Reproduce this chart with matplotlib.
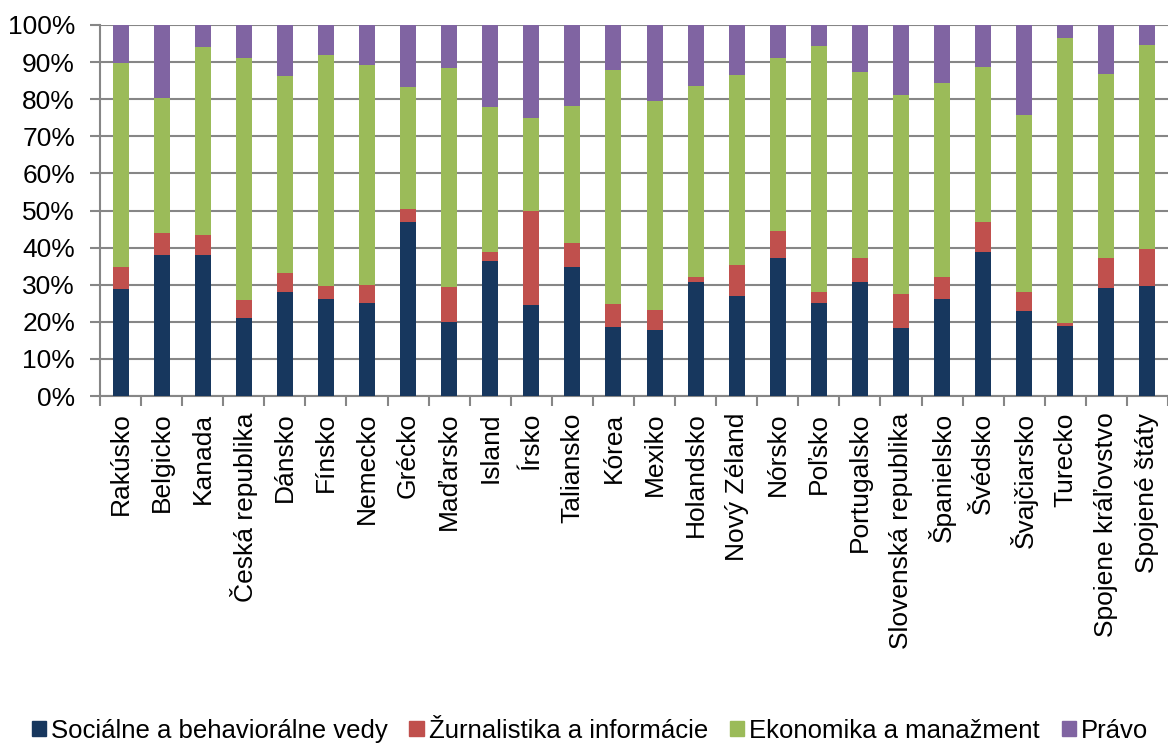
import numpy as np
import matplotlib.pyplot as plt
from matplotlib.patches import Patch

plt.rcParams['font.family'] = ['Liberation Sans', 'DejaVu Sans']

# Krajiny
krajiny = ['Rakúsko', 'Belgicko', 'Kanada', 'Česká republika', 'Dánsko', 'Fínsko',
           'Nemecko', 'Grécko', 'Maďarsko', 'Island', 'Írsko', 'Taliansko', 'Kórea',
           'Mexiko', 'Holandsko', 'Nový Zéland', 'Nórsko', 'Poľsko', 'Portugalsko',
           'Slovenská republika', 'Španielsko', 'Švédsko', 'Švajčiarsko', 'Turecko',
           'Spojene kráľovstvo', 'Spojené štáty']

# Podiely (%)
socialne = [28.8, 38.1, 38.1, 21.0, 28.1, 26.2, 25.1, 46.8, 20.0, 36.4, 24.6, 34.8, 18.6,
            17.8, 30.8, 27.0, 37.2, 25.2, 30.8, 18.3, 26.2, 38.8, 23.0, 19.0, 29.1, 29.7]
zurnalistika = [6.0, 5.9, 5.2, 5.0, 5.1, 3.5, 4.8, 3.6, 9.3, 2.3, 25.3, 6.4, 6.2,
                5.5, 1.3, 8.4, 7.3, 2.9, 6.4, 9.1, 5.8, 8.1, 4.9, 0.8, 8.0, 10.0]
ekonomika = [55.0, 36.2, 50.9, 65.1, 53.0, 62.2, 59.3, 32.9, 59.2, 39.3, 25.0, 37.1, 63.2,
             56.3, 51.5, 51.1, 46.5, 66.2, 50.0, 53.8, 52.4, 41.9, 47.8, 76.8, 49.6, 54.8]
pravo = [100 - a - b - c for a, b, c in zip(socialne, zurnalistika, ekonomika)]

serie = [
    ('Sociálne a behaviorálne vedy', socialne, '#17375E'),
    ('Žurnalistika a informácie', zurnalistika, '#C0504D'),
    ('Ekonomika a manažment', ekonomika, '#9BBB59'),
    ('Právo', pravo, '#8064A2'),
]

fig = plt.figure(figsize=(11.68, 7.48), dpi=100)
ax = fig.add_axes([100/1168, 1 - 396/748, 1 - 100/1168, 371/748])

x = np.arange(len(krajiny))
spodok = np.zeros(len(krajiny))
for nazov, hodnoty, farba in serie:
    ax.bar(x, hodnoty, 0.39, bottom=spodok, color=farba, label=nazov, zorder=3)
    spodok += np.array(hodnoty)

ax.set_xlim(-0.5, len(krajiny) - 0.5)
ax.set_ylim(0, 100)
ax.set_yticks(np.arange(0, 101, 10))
ax.set_yticklabels([f'{v}%' for v in range(0, 101, 10)], fontsize=19)
ax.set_xticks(x)
ax.set_xticklabels(krajiny, rotation=90, fontsize=19)
ax.set_xticks(np.arange(-0.5, len(krajiny), 1), minor=True)
ax.tick_params(axis='x', which='major', length=0, pad=12)
ax.tick_params(axis='x', which='minor', length=7, width=1.5, color='#868686')
ax.tick_params(axis='y', length=7, width=1.5, color='#868686', pad=11)
ax.yaxis.grid(True, color='#868686', linewidth=1.5, zorder=0)

for s in ['top', 'right']:
    ax.spines[s].set_visible(False)
for s in ['left', 'bottom']:
    ax.spines[s].set_color('#868686')
    ax.spines[s].set_linewidth(1.5)

handles = [Patch(color=f, label=n) for n, _, f in serie]
fig.legend(handles=handles, loc='lower center', bbox_to_anchor=(0.505, -0.024), ncol=4,
           frameon=False, fontsize=18.5, handlelength=0.55, handleheight=0.55,
           handletextpad=0.2, columnspacing=0.85)

fig.savefig('out.png', dpi=100)
